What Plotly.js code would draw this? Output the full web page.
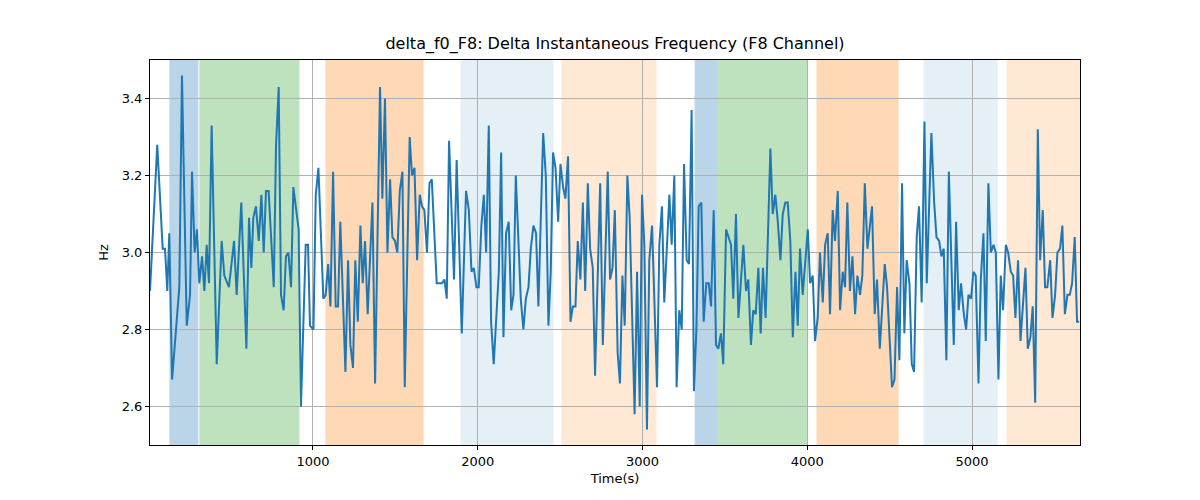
<!DOCTYPE html>
<html>
<head>
<meta charset="utf-8">
<script src="https://cdn.plot.ly/plotly-3.0.1.min.js"></script>
<style>body{margin:0;background:#fff}#chart{width:1200px;height:500px}</style>
</head>
<body>
<div id="chart"></div>
<script>
// ── Datos ─────────────────────────────────────────────
const times = [11,55,88,102,116,128,145,189,205,234,254,266,282,296,310,327,341,355,369,385,416,446,462,490,521,537,565,596,612,626,638,654,671,687,701,715,731,762,776,792,806,822,836,851,867,881,913,927,956,970,
  982,1003,1017,1033,1063,1077,1092,1106,1122,1138,1152,1166,1197,1213,1227,1243,1257,1272,1288,1302,1316,1332,1361,1377,1407,1421,1437,1452,1468,1482,1498,1512,1527,1543,1557,1587,1601,1616,1632,1648,1662,1676,1692,1707,1721,1751,1767,1783,1798,1812,1826,1856,1872,1903,
  1929,1946,1962,1976,1992,2006,2022,2037,2051,2067,2081,2097,2128,2142,2156,2172,2188,2203,2217,2231,2261,2277,2292,2308,2322,2338,2354,2368,2397,2413,2429,2443,2457,2472,2488,2502,2518,2532,2548,2563,2577,2593,2607,2623,2638,2652,2668,2682,2698,2712,2743,2759,2789,2803,2818,2832,
  2849,2863,2878,2892,2908,2922,2952,2967,2983,2997,3011,3027,3041,3058,3088,3102,3118,3132,3163,3177,3193,3207,3223,3238,3252,3268,3282,3298,3312,3327,3341,3357,3371,3387,3402,3416,3432,3446,3460,3476,3490,3507,3537,3551,3567,3582,3612,3628,3642,3658,3672,3687,3703,3717,3731,3747,3776,
  3790,3806,3821,3837,3851,3867,3881,3897,3912,3928,3942,3956,3972,4003,4017,4033,4047,4063,4077,4094,4108,4124,4138,4154,4168,4185,4199,4215,4229,4243,4259,4274,4290,4304,4320,4334,4349,4365,4393,4409,4423,4440,4470,4484,4514,4529,4545,4559,4575,4589,4603,4620,4634,4648,4664,4678,4694,4711,
  4725,4753,4770,4784,4800,4814,4828,4844,4859,4873,4889,4903,4919,4933,4950,4964,4978,4994,5008,5022,5039,5053,5069,5083,5099,5114,5130,5144,5160,5174,5188,5205,5219,5235,5249,5263,5279,5294,5324,5338,5354,5368,5383,5399,5413,5429,5443,5457,5474,5488,5504,5518,5534,5548,5563,5579,5593,5607,5623,5637,5650];
const deltaF0 = [2.90,3.28,3.01,3.01,2.90,3.05,2.67,2.91,3.46,2.81,2.89,3.21,3.00,3.06,2.92,2.99,2.90,3.02,2.92,3.33,2.71,3.03,2.94,2.91,3.03,2.89,3.13,2.75,3.09,2.96,3.09,3.12,3.03,3.15,3.00,3.16,3.16,2.91,3.28,3.43,2.89,2.85,2.99,3.00,2.91,3.17,3.06,2.60,3.02,3.02,
  2.81,2.80,3.15,3.22,2.88,2.89,2.97,2.86,3.21,2.86,2.86,3.08,2.69,2.98,2.76,2.70,2.98,2.82,3.07,2.92,3.03,2.84,3.13,2.66,3.43,3.14,3.40,3.00,3.19,3.04,3.03,3.00,3.16,3.21,2.65,3.30,3.20,3.22,2.98,3.15,3.12,3.11,3.00,3.18,3.19,2.92,2.92,2.92,2.93,2.88,3.29,2.93,3.24,2.79,
  3.16,3.11,2.95,2.96,2.91,2.91,3.07,3.15,3.00,3.33,2.82,2.71,2.95,3.26,2.78,3.05,3.08,2.85,2.89,3.20,2.88,2.80,2.88,2.91,3.01,3.07,3.05,2.86,3.31,3.20,2.81,2.95,3.26,3.22,3.08,3.23,3.17,3.14,3.25,2.82,2.86,2.86,3.03,2.93,3.13,2.90,3.18,3.01,2.96,2.68,3.18,2.76,3.21,2.93,2.96,3.11,
  2.74,2.66,2.94,2.81,3.20,3.09,2.58,2.95,2.60,3.15,3.02,2.54,2.98,3.07,2.65,3.02,3.12,2.87,3.15,3.02,3.20,2.65,2.85,2.80,3.23,2.98,2.97,3.37,2.64,2.80,3.12,3.13,2.82,2.92,2.92,2.86,3.11,2.76,2.75,2.79,2.71,3.06,3.02,2.88,3.10,2.83,3.02,2.90,2.93,2.76,2.85,2.84,2.96,2.79,2.96,2.83,3.27,
  3.10,3.15,3.08,2.98,3.10,3.13,3.13,3.03,2.78,2.95,2.81,3.01,2.89,3.06,2.92,2.94,2.77,2.83,3.00,2.87,3.02,3.05,2.84,3.11,3.03,3.16,2.85,2.95,2.91,3.13,2.90,2.99,2.84,2.94,2.89,2.94,3.18,3.01,3.12,2.84,2.93,2.75,2.97,2.91,2.65,2.67,2.91,2.72,3.18,2.79,2.98,2.92,2.71,2.69,3.04,3.12,2.87,3.34,
  2.92,3.31,3.13,3.04,3.03,2.99,3.01,2.72,3.21,3.00,2.76,3.08,2.85,2.92,2.84,2.80,2.89,2.88,2.95,2.94,2.66,2.93,3.05,2.77,3.18,3.00,3.02,3.00,2.67,2.94,2.85,3.02,3.00,2.95,2.94,2.83,2.98,2.77,2.96,2.75,2.78,2.86,2.61,3.32,2.98,3.11,2.91,2.91,2.98,2.83,2.89,3.00,3.01,3.07,2.84,2.89,2.89,2.92,3.04,2.82,2.82];

// Segmentos sombreados: inicio, fin, color, opacidad
const segStart = [132, 314, 1079, 1898, 2511, 3319, 3458, 4059, 4709, 5212];
const segEnd   = [302, 915, 1668, 2457, 3082, 3452, 3998, 4551, 5152, 5655];
const segColor = ['#1f77b4','#2ca02c','#ff7f0e','#1f77b4','#ff7f0e','#1f77b4','#2ca02c','#ff7f0e','#1f77b4','#ff7f0e'];
const segAlpha = [0.3, 0.3, 0.3, 0.11, 0.17, 0.3, 0.3, 0.3, 0.11, 0.17];

const shapes = segStart.map((s, i) => ({
  type: 'rect', xref: 'x', yref: 'paper', x0: s, x1: segEnd[i], y0: 0, y1: 1,
  fillcolor: segColor[i], opacity: segAlpha[i], line: { width: 1, color: segColor[i] }, layer: 'below'
}));

const trace = {
  type: 'scatter', mode: 'lines', x: times, y: deltaF0,
  line: { color: '#1f77b4', width: 2 }
};

const axisBase = {
  showline: true, mirror: true, linecolor: '#000', linewidth: 1,
  ticks: 'outside', ticklen: 4, tickcolor: '#000',
  showgrid: true, gridcolor: '#b0b0b0', gridwidth: 1, zeroline: false,
  tickfont: { size: 13, color: '#000' }
};

const layout = {
  width: 1200, height: 500,
  paper_bgcolor: '#fff', plot_bgcolor: 'rgba(0,0,0,0)',
  font: { family: 'DejaVu Sans', color: '#000' },
  margin: { l: 150, r: 120, t: 60, b: 55 },
  title: { text: 'delta_f0_F8: Delta Instantaneous Frequency (F8 Channel)', font: { size: 16 }, x: 0.5, xref: 'paper', y: 0.925 },
  xaxis: Object.assign({}, axisBase, { range: [11, 5655], tickvals: [1000, 2000, 3000, 4000, 5000],
    title: { text: 'Time(s)', font: { size: 13 }, standoff: 6 } }),
  yaxis: Object.assign({}, axisBase, { range: [2.5, 3.5], tickvals: [2.6, 2.8, 3.0, 3.2, 3.4], tickformat: '.1f',
    title: { text: 'Hz', font: { size: 13 }, standoff: 10 } }),
  shapes: shapes,
  showlegend: false
};

Plotly.newPlot('chart', [trace], layout, { displayModeBar: false });
</script>
</body>
</html>
